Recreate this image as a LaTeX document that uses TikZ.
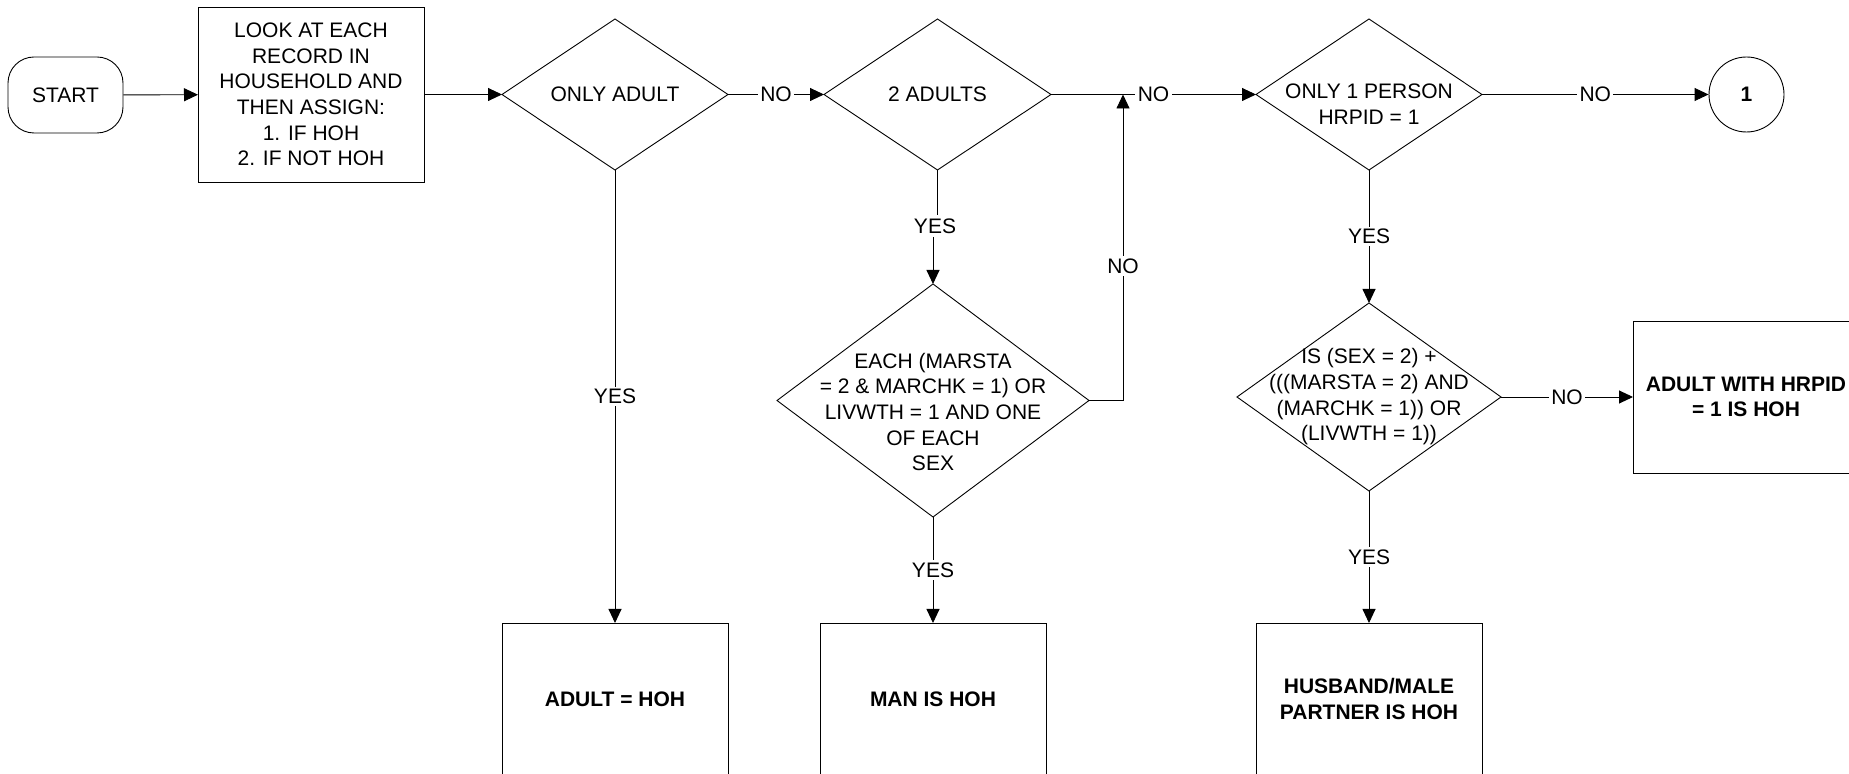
\documentclass[tikz,border=0pt]{standalone}
\usepackage{fontspec}
\setmainfont{Liberation Sans}
\usetikzlibrary{shapes.geometric,arrows.meta}
\begin{document}
\begin{tikzpicture}[x=0.5pt,y=-0.5pt,
  every node/.style={font=\fontsize{10.5pt}{12.85pt}\selectfont},
  ln/.style={line width=0.45pt, draw=black},
  arr/.style={ln, -{Triangle[length=7pt,width=6.5pt]}},
  dia/.style={ln, shape=diamond, inner sep=0pt, outer sep=0pt},
  boxs/.style={ln, rectangle, align=center, inner sep=0pt, outer sep=0pt, minimum width=113pt, minimum height=76pt},
  bold/.style={font=\fontsize{10.5pt}{12.85pt}\selectfont\bfseries},
  txt/.style={align=center, inner sep=0pt},
  lab/.style={fill=white, inner sep=1.2pt},
]
\useasboundingbox (0,0) rectangle (1849,774);
\clip (0,0) rectangle (1849,774);

% nodes
\node[ln, rounded corners=13pt, minimum width=57.5pt, minimum height=38pt, inner sep=0pt] (start) at (65.5,95) {START};
\node[boxs, minimum height=87.5pt] (rec) at (311,94.5) {LOOK AT EACH\\RECORD IN\\HOUSEHOLD AND\\THEN ASSIGN:\\1. IF HOH\\2. IF NOT HOH};

\node[dia, minimum width=113pt, minimum height=75.5pt] (d1) at (615,94.5) {};
\node[txt] (d1t) at (d1.center) {ONLY ADULT};

\node[dia, minimum width=113.5pt, minimum height=75.5pt] (d2) at (937.5,94.5) {};
\node[txt] (d2t) at (d2.center) {2 ADULTS};

\node[dia, minimum width=113pt, minimum height=75.5pt] (d3) at (1369,94.5) {};
\node[txt] (d3t) at (1369,104) {ONLY 1 PERSON\\HRPID = 1};

\node[ln, circle, minimum size=37.5pt, inner sep=0pt, bold] (c1) at (1746.5,94.5) {1};

\node[dia, minimum width=156pt, minimum height=116.5pt] (d4) at (933,400.5) {};
\node[txt] (d4t) at (933,412) {EACH (MARSTA\\= 2 \& MARCHK = 1) OR\\LIVWTH = 1 AND ONE\\OF EACH\\SEX};

\node[dia, minimum width=132pt, minimum height=94pt] (d5) at (1369,397) {};
\node[txt] (d5t) at (1369,397) {IS (SEX = 2) +\\(((MARSTA = 2) AND\\(MARCHK = 1)) OR\\(LIVWTH = 1))};

\node[boxs, bold] (b1) at (615,699) {ADULT = HOH};
\node[boxs, bold] (b2) at (933,699) {MAN IS HOH};
\node[boxs, bold] (b3) at (1369,699) {HUSBAND/MALE\\PARTNER IS HOH};
\node[boxs, bold] (b4) at (1746,397) {ADULT WITH HRPID\\= 1 IS HOH};

\coordinate (j) at (1123,94.5);
\node[txt] (y2) at (935,226) {YES};

% connectors
\draw[arr] (start) -- (rec);
\draw[arr] (rec) -- (d1);
\draw[arr] (d1) -- node[lab]{NO} (d2);
\draw[arr] (d2) -- node[lab]{NO} (d3);
\draw[arr] (d3) -- node[lab]{NO} (c1);
\draw[arr] (d1) -- node[lab]{YES} (b1);
\draw[ln] (d2.south) -- ([yshift=1.5pt]d2.south |- y2.north);
\draw[arr] ([yshift=-1.5pt]d4.north |- y2.south) -- (d4.north);
\draw[arr] (d4.east) -| node[lab, pos=0.72]{NO} (j);
\draw[arr] (d4) -- node[lab]{YES} (b2);
\draw[arr] (d3) -- node[lab]{YES} (d5);
\draw[arr] (d5) -- node[lab]{NO} (b4);
\draw[arr] (d5) -- node[lab]{YES} (b3);
\end{tikzpicture}
\end{document}
